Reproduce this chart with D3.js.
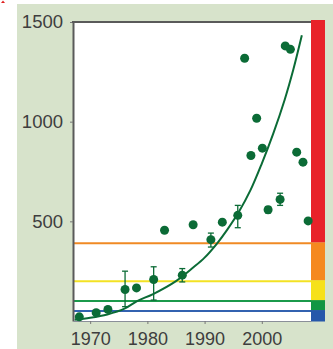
<!DOCTYPE html>
<html>
<head>
<meta charset="utf-8">
<script src="https://cdn.jsdelivr.net/npm/d3@7"></script>
<style>
  html, body { margin: 0; padding: 0; background: #ffffff; }
  svg { display: block; }
  text { font-family: "Liberation Sans", Arial, sans-serif; }
</style>
</head>
<body>
<svg id="chart" width="333" height="349"></svg>
<script>
// Observations (year, value) with optional error ranges
const years  = [1968.1, 1971.05, 1973.1, 1976.1, 1978.1, 1981.1, 1983.0, 1986.1, 1988.0, 1991.1, 1993.1, 1995.8,
                1997.0, 1998.1, 1999.1, 2000.1, 2001.1, 2003.2, 2004.1, 2005.0, 2006.1, 2007.2, 2008.1];
const values = [21, 42, 58, 158, 166, 208, 455, 230, 483, 408, 496, 530,
                1318, 830, 1017, 867, 558, 610, 1380, 1363, 847, 797, 502];
const errLow  = [null, null, null, 72, null, 105, null, 196, null, 371, null, 468,
                 null, null, null, null, 542, 580, null, null, null, null, null];
const errHigh = [null, null, null, 250, null, 272, null, 263, null, 441, null, 580,
                 null, null, null, null, 574, 641, null, null, null, null, null];

// Fitted growth trend
const trendYears  = [1967.3, 1970, 1973, 1976, 1978.2, 1981, 1985, 1988, 1990, 1992.2, 1994, 1996, 1998, 2000, 2002, 2004, 2005.5, 2007];
const trendValues = [6, 16, 33, 62, 100, 135, 200, 268, 318, 390, 460, 548, 655, 790, 940, 1110, 1260, 1433];

// Threshold levels and the colour scale on the right
const levelValues = [50, 100, 200, 390];
const levelColors = ["#3262b0", "#1b9a4b", "#f3e224", "#f08a24"];
const bandEdges   = [0, 50, 100, 200, 390, 1500];
const bandColors  = ["#2657aa", "#119644", "#f6e11a", "#f5891f", "#e82229"];

const yTicks = [500, 1000, 1500];
const xTicks = [1970, 1980, 1990, 2000];

const svg = d3.select("#chart");
const W = 333, H = 349;
const plot = { left: 73, right: 311, top: 22, bottom: 321 };

// page background
svg.append("rect").attr("x", 17).attr("y", 4).attr("width", W - 17).attr("height", H - 4)
  .attr("fill", "#d7e3cb");

// red corner mark
svg.append("path").attr("d", "M1,3 L3,0.5 L5,3 Z").attr("fill", "#e02020");

const x = d3.scaleLinear().domain([1967, 2008.6]).range([plot.left, plot.right]);
const y = d3.scaleLinear().domain([0, 1500]).range([plot.bottom, plot.top]);

// plot area
svg.append("rect").attr("x", plot.left).attr("y", plot.top)
  .attr("width", plot.right - plot.left).attr("height", plot.bottom - plot.top)
  .attr("fill", "#ffffff");

// colour bar
const barX = plot.right, barW = 14;
svg.append("g").selectAll("rect").data(bandColors).join("rect")
  .attr("x", barX).attr("width", barW)
  .attr("y", (d, i) => y(bandEdges[i + 1]) - (i === bandColors.length - 1 ? 2 : 1))
  .attr("height", (d, i) => y(bandEdges[i]) - y(bandEdges[i + 1]) + (i === 0 ? 1.5 : 0) + (i === bandColors.length - 1 ? 1 : 0))
  .attr("fill", d => d);

// threshold lines
svg.append("g").selectAll("line").data(levelValues).join("line")
  .attr("x1", plot.left).attr("x2", plot.right)
  .attr("y1", d => y(d)).attr("y2", d => y(d))
  .attr("stroke", (d, i) => levelColors[i]).attr("stroke-width", 2);

// axes
const yAxis = svg.append("g").attr("transform", `translate(${plot.left},0)`)
  .call(d3.axisLeft(y).tickValues(yTicks).tickFormat(d3.format("d")).tickSize(3).tickPadding(7).tickSizeOuter(0));
yAxis.select(".domain").attr("stroke", "#5a5a5a").attr("stroke-width", 2);
yAxis.selectAll(".tick line").attr("stroke", "#777");
yAxis.selectAll(".tick text").attr("font-size", 18.5).attr("fill", "#3e3e3e")
  .attr("font-family", "Liberation Sans, Arial, sans-serif");

const xAxis = svg.append("g").attr("transform", `translate(0,${plot.bottom})`)
  .call(d3.axisBottom(x).tickValues(xTicks).tickFormat(d3.format("d")).tickSize(3).tickPadding(8).tickSizeOuter(0));
xAxis.select(".domain").attr("stroke", "#8a8f99").attr("stroke-width", 1);
xAxis.selectAll(".tick line").attr("stroke", "#777");
xAxis.selectAll(".tick text").attr("font-size", 18).attr("fill", "#3e3e3e")
  .attr("font-family", "Liberation Sans, Arial, sans-serif");

// top frame line
svg.append("line").attr("x1", plot.left - 1).attr("x2", plot.right)
  .attr("y1", plot.top).attr("y2", plot.top)
  .attr("stroke", "#5a5a5a").attr("stroke-width", 2);

const green = "#0b6b36";

// trend curve
const trend = trendYears.map((t, i) => [t, trendValues[i]]);
svg.append("path").datum(trend)
  .attr("d", d3.line().x(d => x(d[0])).y(d => y(d[1])).curve(d3.curveCatmullRom))
  .attr("fill", "none").attr("stroke", green).attr("stroke-width", 2);

// error bars
const errs = years.map((t, i) => ({ t, lo: errLow[i], hi: errHigh[i] })).filter(d => d.lo !== null);
const eg = svg.append("g").attr("stroke", green).attr("stroke-width", 1.3);
eg.selectAll("line.v").data(errs).join("line").attr("class", "v")
  .attr("x1", d => x(d.t)).attr("x2", d => x(d.t)).attr("y1", d => y(d.lo)).attr("y2", d => y(d.hi));
eg.selectAll("line.h").data(errs).join("line").attr("class", "h")
  .attr("x1", d => x(d.t) - 3).attr("x2", d => x(d.t) + 3).attr("y1", d => y(d.hi)).attr("y2", d => y(d.hi));
eg.selectAll("line.l").data(errs).join("line").attr("class", "l")
  .attr("x1", d => x(d.t) - 3).attr("x2", d => x(d.t) + 3).attr("y1", d => y(d.lo)).attr("y2", d => y(d.lo));

// observations
svg.append("g").selectAll("circle").data(years).join("circle")
  .attr("cx", d => x(d)).attr("cy", (d, i) => y(values[i])).attr("r", 4.5)
  .attr("fill", green);
</script>
</body>
</html>
